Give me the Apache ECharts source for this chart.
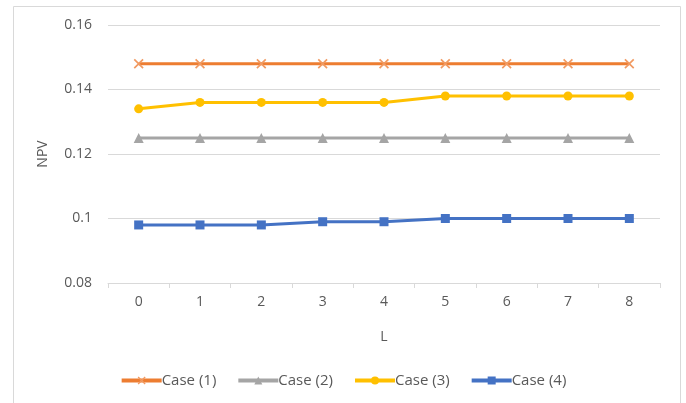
<!DOCTYPE html>
<html><head><meta charset="utf-8">
<script src="https://cdn.jsdelivr.net/npm/echarts@6/dist/echarts.min.js"></script>
<style>html,body{margin:0;padding:0;background:#fff}#c{width:686px;height:403px}</style>
</head><body><div id="c"></div>
<script>
const categories = ['0','1','2','3','4','5','6','7','8'];
const case1 = [0.148,0.148,0.148,0.148,0.148,0.148,0.148,0.148,0.148];
const case2 = [0.125,0.125,0.125,0.125,0.125,0.125,0.125,0.125,0.125];
const case3 = [0.134,0.136,0.136,0.136,0.136,0.138,0.138,0.138,0.138];
const case4 = [0.098,0.098,0.098,0.099,0.099,0.100,0.100,0.100,0.100];
const seriesNames = ['Case (1)','Case (2)','Case (3)','Case (4)'];

const font = 'Open Sans, Noto Sans, sans-serif';
const crossPath = 'path://M0,0.12L0.12,0L0.5,0.38L0.88,0L1,0.12L0.62,0.5L1,0.88L0.88,1L0.5,0.62L0.12,1L0,0.88L0.38,0.5Z';

function mk(name, data, color, symbol, size, markerColor) {
  return {
    name, type: 'line', data, symbol, symbolSize: size,
    lineStyle: { color, width: 3 },
    itemStyle: { color: markerColor || color },
    emphasis: { disabled: true },
    animation: false
  };
}

const chart = echarts.init(document.getElementById('c'));
chart.setOption({
  animation: false,
  graphic: [{ type: 'rect', shape: { x: 13.5, y: 6.5, width: 667, height: 410 },
    style: { fill: 'none', stroke: '#D9D9D9', lineWidth: 1 }, silent: true }],
  grid: { left: 108, right: 26, top: 25, bottom: 120 },
  legend: {
    bottom: 10, left: 'center', itemWidth: 40, itemHeight: 10, itemGap: 20,
    lineStyle: { width: 4 },
    textStyle: { fontFamily: font, fontSize: 15, color: '#595959', padding: [0,0,0,-5] },
    data: seriesNames
  },
  xAxis: {
    type: 'category', data: categories, boundaryGap: true,
    name: 'L', nameLocation: 'middle', nameGap: 47,
    nameTextStyle: { fontFamily: font, fontSize: 14, color: '#595959' },
    axisLine: { lineStyle: { color: '#D9D9D9', width: 1 } },
    axisTick: { show: true, length: 5, lineStyle: { color: '#D9D9D9' } },
    axisLabel: { fontFamily: font, fontSize: 14, color: '#595959', margin: 12 }
  },
  yAxis: {
    type: 'value', min: 0.08, max: 0.16, interval: 0.02,
    name: 'NPV', nameLocation: 'middle', nameGap: 58,
    nameTextStyle: { fontFamily: font, fontSize: 14, color: '#595959' },
    axisLine: { show: false }, axisTick: { show: false },
    axisLabel: { fontFamily: font, fontSize: 14, color: '#595959', margin: 16 },
    splitLine: { lineStyle: { color: '#D9D9D9', width: 1 } }
  },
  series: [
    mk(seriesNames[0], case1, '#ED7D31', crossPath, 10, '#F19A62'),
    mk(seriesNames[1], case2, '#A5A5A5', 'triangle', 10),
    mk(seriesNames[2], case3, '#FFC000', 'circle', 9),
    mk(seriesNames[3], case4, '#4472C4', 'rect', 9)
  ]
});
</script></body></html>
